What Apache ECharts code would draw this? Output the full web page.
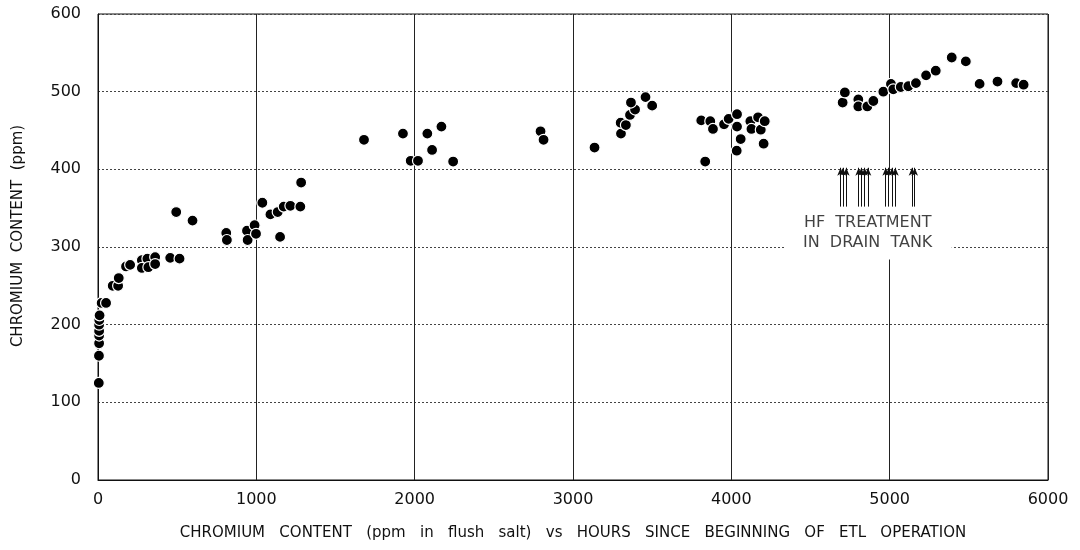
<!DOCTYPE html>
<html>
<head>
<meta charset="utf-8">
<script src="https://cdn.jsdelivr.net/npm/echarts@6/dist/echarts.min.js"></script>
<style>html,body{margin:0;padding:0;background:#fff}#c{width:1080px;height:550px}</style>
</head>
<body>
<div id="c"></div>
<script>
var xTicks = [0, 1000, 2000, 3000, 4000, 5000, 6000];
var yTicks = [0, 100, 200, 300, 400, 500, 600];
var hours = [5,6,7,7,7,7,8,10,23,51,93,127,131,177,203,277,277,312,318,361,361,456,515,494,597,810,814,941,945,989,998,1038,1089,1135,1150,1173,1215,1278,1283,1680,1926,1975,2021,2080,2110,2169,2243,2795,2814,3136,3303,3301,3334,3360,3392,3366,3458,3500,3810,3835,3867,3884,3954,3983,4036,4036,4059,4034,4120,4127,4169,4186,4204,4211,4703,4717,4802,4802,4859,4897,4960,5008,5023,5070,5118,5166,5230,5291,5392,5481,5568,5681,5799,5846];
var chromium = [125,160,176,186,192,200,206,212,228,228,250,250,260,275,277,283,273,285,274,287,278,286,285,345,334,318,309,321,309,328,317,357,342,345,313,352,353,352,383,438,446,411,411,446,425,455,410,449,438,428,446,460,457,470,477,486,493,482,463,410,462,452,458,465,471,455,439,424,462,452,467,451,433,462,486,499,490,481,481,488,500,510,503,506,507,511,521,527,544,539,510,513,511,509];
var hfHours = [4690,4705,4726,4804,4821,4842,4863,4975,4994,5015,5036,5141,5158];
var arrowFrom = 352, arrowTo = 402;
var noteText = ['HF  TREATMENT', 'IN  DRAIN  TANK'];
var notePos = [4861, 318];
var noteBoxX = [4335, 5392];
var noteBoxY = [284, 398];

var points = hours.map(function (h, i) { return [h, chromium[i]]; });
var arrows = hfHours.map(function (h) { return [{ coord: [h, arrowFrom] }, { coord: [h, arrowTo] }]; });

var font = 'DejaVu Sans';
var chart = echarts.init(document.getElementById('c'));
chart.setOption({
  animation: false,
  backgroundColor: '#fff',
  grid: { left: 98, right: 32, top: 14, bottom: 70, show: true, borderColor: '#111', borderWidth: 1 },
  xAxis: {
    type: 'value', min: xTicks[0], max: xTicks[xTicks.length - 1], interval: 1000,
    name: 'CHROMIUM   CONTENT   (ppm   in   flush   salt)   vs   HOURS   SINCE   BEGINNING   OF   ETL   OPERATION',
    nameLocation: 'middle', nameGap: 46,
    nameTextStyle: { fontFamily: font, fontSize: 15, color: '#111' },
    axisLine: { show: true, lineStyle: { color: '#111', width: 1 } },
    axisTick: { show: false },
    axisLabel: { fontFamily: font, fontSize: 16, color: '#111', margin: 12, formatter: function (v) { return String(v); } },
    splitLine: { show: true, lineStyle: { color: '#222', width: 1, type: 'solid' } }
  },
  yAxis: {
    type: 'value', min: yTicks[0], max: yTicks[yTicks.length - 1], interval: 100,
    name: 'CHROMIUM  CONTENT  (ppm)',
    nameLocation: 'middle', nameGap: 72, nameRotate: 90,
    nameTextStyle: { fontFamily: font, fontSize: 15, color: '#111', padding: [0, 0, 0, 22] },
    axisLine: { show: true, lineStyle: { color: '#111', width: 1 } },
    axisTick: { show: false },
    axisLabel: { fontFamily: font, fontSize: 16, color: '#111', margin: 17, formatter: function (v) { return String(v); } },
    splitLine: { show: true, lineStyle: { color: '#444', width: 1, type: [2, 2] } }
  },
  series: [
    {
      type: 'scatter', z: 3,
      data: [notePos],
      symbolSize: 1,
      itemStyle: { color: 'rgba(0,0,0,0)' },
      silent: true,
      label: {
        show: true, position: 'inside',
        formatter: noteText.join('\n'),
        fontFamily: font, fontSize: 16, color: '#111', lineHeight: 20
      },
      markArea: {
        silent: true,
        itemStyle: { color: '#fff', opacity: 1 },
        data: [[{ coord: [noteBoxX[0], noteBoxY[0]] }, { coord: [noteBoxX[1], noteBoxY[1]] }]]
      }
    },
    {
      type: 'scatter', z: 4,
      data: points,
      symbol: 'circle', symbolSize: 11,
      itemStyle: { color: '#000', borderColor: '#fff', borderWidth: 1.2, opacity: 1 },
      markLine: {
        silent: true, z: 5,
        symbol: ['none', 'arrow'], symbolSize: [5, 8],
        label: { show: false },
        lineStyle: { color: '#111', width: 1, type: 'solid' },
        data: arrows
      }
    }
  ]
});
</script>
</body>
</html>
